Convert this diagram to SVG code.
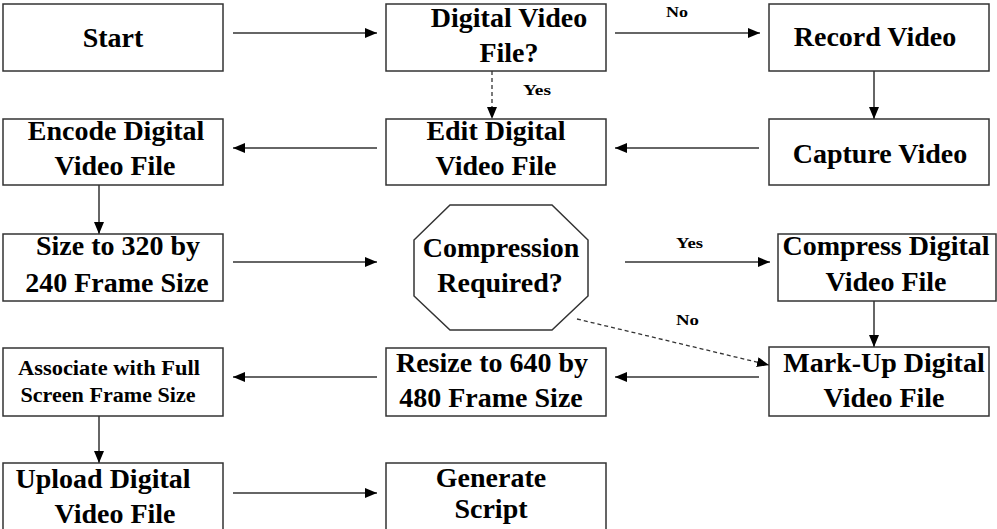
<svg xmlns="http://www.w3.org/2000/svg" width="997" height="529" viewBox="0 0 997 529">
<style>
.box{fill:#fff;stroke:#333;stroke-width:1.5}
.t{font-family:"Liberation Serif","Times New Roman",serif;font-weight:bold;font-size:28px;fill:#000;text-anchor:middle}
.s{font-family:"Liberation Serif","Times New Roman",serif;font-weight:bold;font-size:14px;fill:#000}
.c{fill:none;stroke:#333;stroke-width:1.5}
.d{fill:none;stroke:#333;stroke-width:1.3;stroke-dasharray:4 3}
</style>
<defs>
<marker id="ah" viewBox="0 0 12 10" refX="12" refY="5" markerWidth="12" markerHeight="10" markerUnits="userSpaceOnUse" orient="auto">
<path d="M0,0 L12,5 L0,10 Z" fill="#000"/>
</marker>
</defs>
<rect width="997" height="529" fill="#fff"/>
<g id="connectors">
<line class="c" x1="233" y1="33" x2="377" y2="33" marker-end="url(#ah)"/>
<line class="c" x1="615" y1="33" x2="760" y2="33" marker-end="url(#ah)"/>
<line class="c" x1="874" y1="71" x2="874" y2="119" marker-end="url(#ah)"/>
<line class="c" x1="759" y1="148" x2="615" y2="148" marker-end="url(#ah)"/>
<line class="c" x1="377" y1="148" x2="233" y2="148" marker-end="url(#ah)"/>
<line class="d" x1="492" y1="71" x2="492" y2="119" marker-end="url(#ah)"/>
<line class="c" x1="99" y1="185" x2="99" y2="234" marker-end="url(#ah)"/>
<line class="c" x1="233" y1="262" x2="377" y2="262" marker-end="url(#ah)"/>
<line class="c" x1="625" y1="262" x2="770" y2="262" marker-end="url(#ah)"/>
<line class="c" x1="874" y1="301" x2="874" y2="347" marker-end="url(#ah)"/>
<line class="d" x1="577" y1="319" x2="769" y2="365" marker-end="url(#ah)"/>
<line class="c" x1="759" y1="377" x2="615" y2="377" marker-end="url(#ah)"/>
<line class="c" x1="377" y1="377" x2="233" y2="377" marker-end="url(#ah)"/>
<line class="c" x1="99" y1="416" x2="99" y2="463" marker-end="url(#ah)"/>
<line class="c" x1="233" y1="493" x2="377" y2="493" marker-end="url(#ah)"/>
<text class="s" x="666" y="17" textLength="22" lengthAdjust="spacingAndGlyphs">No</text>
<text class="s" x="523" y="95" textLength="28" lengthAdjust="spacingAndGlyphs">Yes</text>
<text class="s" x="676" y="248" textLength="27" lengthAdjust="spacingAndGlyphs">Yes</text>
<text class="s" x="676" y="325" textLength="23" lengthAdjust="spacingAndGlyphs">No</text>
</g>
<g id="start">
<rect class="box" x="3" y="4" width="220" height="67"/>
<text class="t" x="113" y="47">Start</text>
</g>
<g id="digital-video-file">
<rect class="box" x="386" y="4" width="220" height="67"/>
<text class="t" x="509" y="27">Digital Video</text>
<text class="t" x="509" y="62">File?</text>
</g>
<g id="record-video">
<rect class="box" x="769" y="4" width="220" height="67"/>
<text class="t" x="875" y="46">Record Video</text>
</g>
<g id="encode">
<rect class="box" x="3" y="119" width="220" height="66"/>
<text class="t" x="116" y="140">Encode Digital</text>
<text class="t" x="115" y="175">Video File</text>
</g>
<g id="edit">
<rect class="box" x="386" y="119" width="220" height="66"/>
<text class="t" x="496" y="140">Edit Digital</text>
<text class="t" x="496" y="175">Video File</text>
</g>
<g id="capture-video">
<rect class="box" x="769" y="119" width="220" height="66"/>
<text class="t" x="880" y="163">Capture Video</text>
</g>
<g id="size-320">
<rect class="box" x="3" y="234" width="220" height="67"/>
<text class="t" x="118" y="255">Size to 320 by</text>
<text class="t" x="117" y="292">240 Frame Size</text>
</g>
<g id="compression-required">
<polygon class="box" points="450,205 552,205 588,240 588,296 552,330 450,330 414,296 414,240"/>
<text class="t" x="501" y="257">Compression</text>
<text class="t" x="500" y="292">Required?</text>
</g>
<g id="compress">
<rect class="box" x="778" y="234" width="218" height="67"/>
<text class="t" x="886" y="255">Compress Digital</text>
<text class="t" x="886" y="291">Video File</text>
</g>
<g id="associate">
<rect class="box" x="3" y="348" width="220" height="68"/>
<text class="t" x="109" y="375" style="font-size:20px" textLength="182" lengthAdjust="spacingAndGlyphs">Associate with Full</text>
<text class="t" x="108" y="402" style="font-size:20px" textLength="175" lengthAdjust="spacingAndGlyphs">Screen Frame Size</text>
</g>
<g id="resize-640">
<rect class="box" x="386" y="348" width="220" height="68"/>
<text class="t" x="492" y="372">Resize to 640 by</text>
<text class="t" x="491" y="407">480 Frame Size</text>
</g>
<g id="markup">
<rect class="box" x="769" y="347" width="220" height="69"/>
<text class="t" x="884" y="372">Mark-Up Digital</text>
<text class="t" x="884" y="407">Video File</text>
</g>
<g id="upload">
<rect class="box" x="3" y="463" width="220" height="70"/>
<text class="t" x="103" y="488">Upload Digital</text>
<text class="t" x="115" y="523">Video File</text>
</g>
<g id="generate-script">
<rect class="box" x="386" y="463" width="220" height="70"/>
<text class="t" x="491" y="487">Generate</text>
<text class="t" x="491" y="518">Script</text>
</g>
</svg>
